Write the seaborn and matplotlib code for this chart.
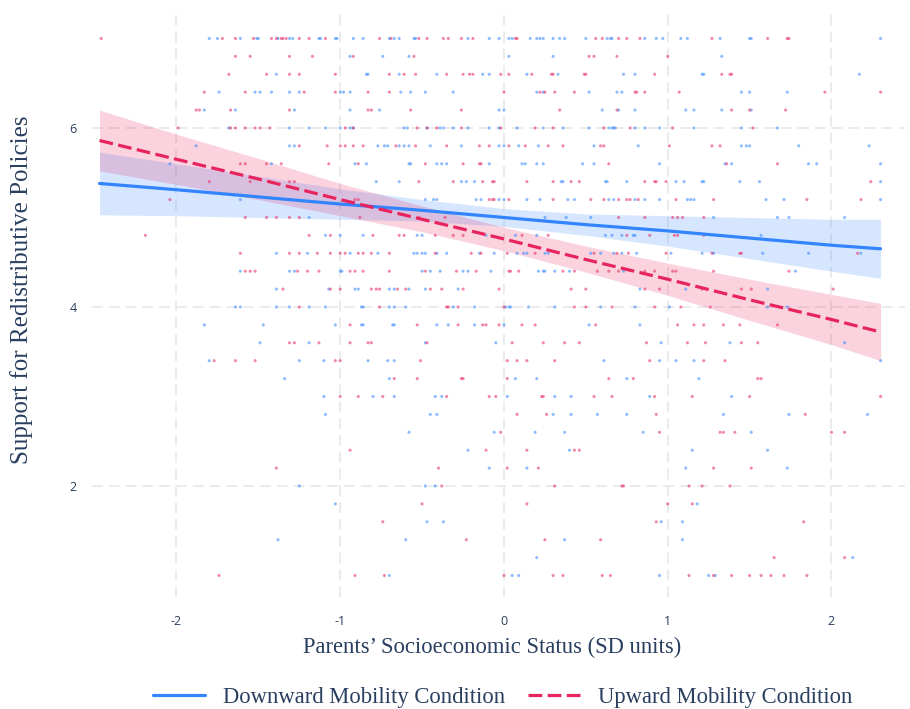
import numpy as np
import pandas as pd
import matplotlib
matplotlib.use("Agg")
import matplotlib.pyplot as plt
import seaborn as sns

# points, grouped by outcome level (x = parents' SES in SD units)
down_by_level = {
    7.0: [-1.80, -1.75, -1.61, -1.51, -1.50, -1.38, -1.31, -1.29, -1.13, -1.12, -1.03, -1.02, -0.92, -0.86,
          -0.70, -0.67, -0.64, -0.55, -0.54, -0.22, -0.09, -0.03, 0.03, 0.05, 0.16, 0.20, 0.22, 0.24, 0.30,
          0.34, 0.37, 0.50, 0.63, 0.65, 0.66, 0.86, 0.93, 0.97, 1.08, 1.12, 1.32, 1.50, 1.51, 2.30],
    6.8: [-0.94, -0.74, -0.58, 0.03, 0.30, 1.33],
    6.6: [-1.39, -0.84, -0.83, -0.64, -0.41, -0.13, -0.09, 0.14, 0.33, 0.73, 0.80, 1.21, 1.22, 2.17],
    6.4: [-1.74, -1.52, -1.49, -1.42, -1.31, -1.25, -1.00, -0.98, -0.94, -0.63, -0.57, -0.48, -0.31,
          0.20, 0.24, 0.52, 0.69, 0.72, 1.45, 1.50, 1.73],
    6.2: [-1.83, -1.64, -1.28, -0.94, -0.76, -0.03, 0.00, 0.60, 0.70, 0.80, 1.11, 1.16, 1.33, 1.51],
    6.0: [-1.68, -1.31, -1.19, -1.09, -1.00, -0.94, -0.92, -0.61, -0.59, -0.47, -0.39, -0.37, -0.31, -0.22,
          -0.09, -0.03, 0.08, 0.24, 0.36, 0.52, 0.64, 0.66, 0.67, 0.68, 0.80, 0.86, 0.95, 1.16, 1.45, 1.67],
    5.8: [-1.88, -1.31, -1.28, -0.77, -0.73, -0.71, -0.64, -0.61, -0.58, -0.45, -0.26, -0.03, 0.00, 0.09,
          0.21, 0.55, 0.82, 1.45, 1.48, 1.50, 1.80, 2.23],
    5.6: [-2.04, -1.42, -0.91, -0.84, -0.58, -0.57, -0.41, -0.38, -0.35, -0.09, 0.11, 0.13, 0.20, 0.24,
          0.48, 0.55, 0.95, 1.35, 1.39, 1.86, 1.91, 2.30],
    5.4: [-0.78, -0.64, -0.26, -0.23, -0.18, 0.35, 0.36, 0.62, 0.63, 0.75, 1.05, 1.10, 1.21, 1.22, 1.44,
          1.56, 2.30],
    5.2: [-1.61, -0.48, -0.43, -0.41, -0.17, -0.14, -0.03, 0.00, 0.14, 0.22, 0.39, 0.43, 0.64, 0.67, 0.80,
          0.86, 0.95, 1.12, 1.14, 1.16, 1.60, 1.71, 2.30],
    5.0: [-1.19, 0.25, 0.38, 0.53, 1.28, 1.67, 1.74, 2.08],
    4.8: [-1.09, -1.00, -0.86, -0.53, -0.50, -0.11, 0.07, 0.20, 0.62, 0.66, 0.72, 0.79, 0.80, 1.57],
    4.6: [-1.39, -1.20, -0.94, -0.77, -0.55, -0.53, -0.50, -0.48, -0.41, -0.35, -0.15, -0.06, 0.08, 0.12,
          0.14, 0.25, 0.27, 0.53, 0.59, 0.67, 0.72, 0.81, 1.02, 1.21, 1.28, 1.58, 1.86, 2.18],
    4.4: [-1.61, -1.31, -1.28, -1.00, -0.99, -0.50, -0.45, -0.39, -0.25, -0.22, -0.08, 0.21, 0.24, 0.25,
          0.31, 0.40, 0.73, 1.78],
    4.2: [-1.39, -1.07, -0.91, -0.89, -0.70, -0.67, -0.58, -0.48, -0.28, 0.83, 1.11, 1.61],
    4.0: [-1.64, -1.61, -1.39, -1.31, -1.19, -1.09, -0.87, -0.86, -0.70, -0.67, -0.60, -0.31, -0.18, 0.01,
          0.03, 0.04, 0.15, 0.31, 0.59, 0.80, 1.01, 1.61, 1.73],
    3.8: [-1.83, -1.47, -1.03, -0.87, -0.86, -0.68, -0.67, -0.41, -0.34, -0.18, 0.00, 0.52, 0.83],
    3.6: [-1.49, -1.19, -0.48, -0.05, 0.96, 1.38, 2.08],
    3.4: [-1.80, -1.25, -1.10, -0.83, -0.71, -0.67, 0.61, 0.95, 1.05, 1.16, 2.30],
    3.2: [-1.34, -0.70, 0.07, 0.20, 0.75, 1.19],
    3.0: [-1.10, -0.80, -0.67, -0.42, -0.38, 0.02, 0.31, 0.41, 0.89, 1.39],
    2.8: [-1.09, -0.45, -0.41, 0.30, 0.41, 0.57, 0.75, 1.34, 1.74, 2.22],
    2.6: [-0.58, -0.06, 0.19, 0.37, 0.85, 1.51],
    2.4: [-0.22, 0.40, 1.15, 1.61],
    2.2: [-0.09, 0.14, 1.11, 1.73],
    2.0: [-1.25, -0.48, -0.42],
    1.8: [-1.03, 1.18],
    1.6: [-0.47, -0.37, 0.96, 1.09],
    1.4: [-1.38, -0.60, 0.37, 1.09],
    1.2: [0.20, 2.13],
    1.0: [-0.70, 0.05, 0.09, 0.95, 1.25, 1.29],
}

up_by_level = {
    7.0: [-2.46, -1.72, -1.64, -1.53, -1.42, -1.39, -1.36, -1.35, -1.33, -1.25, -1.19, -1.09, -0.76, -0.69,
          -0.52, -0.47, -0.37, -0.34, -0.26, -0.19, 0.07, 0.08, 0.56, 0.60, 0.70, 0.75, 0.83, 1.27, 1.61,
          1.73, 1.74],
    6.8: [-1.64, -1.55, -1.31, -1.17, -0.92, -0.55, 0.52, 0.55, 0.69, 1.00],
    6.6: [-1.68, -1.45, -1.31, -1.25, -1.03, -0.70, -0.61, -0.54, -0.35, -0.25, -0.21, -0.19, -0.02, 0.03,
          0.17, 0.29, 0.30, 0.49, 0.50, 0.92, 1.33, 1.38, 1.39],
    6.4: [-1.83, -1.58, -1.22, -1.03, -0.83, -0.70, 0.00, 0.22, 0.25, 0.31, 0.43, 0.80, 0.81, 0.86, 1.07,
          1.96, 2.30],
    6.2: [-1.88, -1.86, -1.67, -1.31, -0.83, -0.81, -0.57, -0.26, 0.34, 0.69, 1.39, 1.50, 1.72],
    6.0: [-1.99, -1.67, -1.64, -1.58, -1.52, -1.49, -1.43, -0.97, -0.92, -0.53, -0.47, -0.41, -0.26, -0.02,
          0.19, 0.30, 0.61, 0.77, 1.03, 1.52],
    5.8: [-1.25, -1.08, -1.00, -0.97, -0.92, -0.86, -0.66, -0.54, -0.35, -0.15, -0.09, 0.03, 0.13, 0.27,
          0.36, 0.59, 0.61, 1.01, 1.27, 1.32],
    5.6: [-1.61, -1.58, -1.45, -1.36, -1.07, -0.89, -0.48, -0.25, -0.15, -0.14, 0.64, 1.36, 1.67],
    5.4: [-1.80, -1.55, -1.31, -1.28, -0.52, -0.31, -0.13, -0.07, -0.06, 0.14, 0.30, 0.41, 0.46, 0.86,
          0.92, 0.93, 0.99, 2.24],
    5.2: [-2.04, -0.91, -0.89, -0.09, -0.07, -0.06, 0.03, 0.30, 0.53, 0.61, 0.70, 0.75, 0.77, 0.82, 1.05,
          1.28, 1.85, 2.18],
    5.0: [-1.58, -1.45, -1.39, -1.31, -1.25, -0.88, -0.52, -0.36, 0.70, 0.86, 1.03, 1.06, 1.09, 1.22],
    4.8: [-2.19, -1.19, -1.06, -0.80, -0.64, -0.61, -0.42, -0.31, -0.25, 0.11, 0.27, 0.75, 0.89, 1.04,
          1.06, 1.22],
    4.6: [-1.61, -1.31, -1.25, -1.14, -1.06, -1.00, -0.97, -0.89, -0.86, -0.81, -0.70, -0.42, -0.20, -0.14,
          0.02, 0.19, 0.55, 0.69, 0.76, 0.99, 1.27, 1.44, 1.45, 2.16],
    4.4: [-1.58, -1.55, -1.52, -1.26, -1.20, -1.13, -0.94, -0.91, -0.86, -0.70, -0.48, -0.29, -0.17, 0.03,
          0.04, 0.09, 0.36, 0.43, 0.57, 0.64, 0.70, 0.86, 0.92, 1.03, 1.05, 1.28, 1.74],
    4.2: [-1.35, -1.06, -1.00, -0.81, -0.78, -0.76, -0.65, -0.60, -0.45, -0.38, -0.25, -0.03, 0.41, 0.50,
          0.86, 0.95, 1.21, 1.45, 1.51, 2.01],
    4.0: [-1.25, -0.76, -0.35, -0.34, -0.28, 0.00, 0.43, 0.50, 0.66, 0.92, 1.08, 1.26],
    3.8: [-0.94, -0.53, -0.28, -0.13, -0.11, -0.03, 0.11, 0.19, 0.56, 1.06, 1.16, 1.22, 1.34, 1.44, 1.67],
    3.6: [-1.31, -1.28, -1.13, -0.94, -0.83, -0.81, -0.47, 0.05, 0.24, 0.37, 0.46, 0.87, 1.12, 1.23, 1.45,
          1.55],
    3.4: [-1.77, -1.64, -1.52, -1.03, -1.00, -0.51, 0.02, 0.08, 0.14, 0.31, 0.89, 1.22, 1.35],
    3.2: [-0.67, -0.53, -0.26, -0.25, 0.02, 0.64, 0.79, 1.55, 1.57],
    3.0: [-1.00, -0.89, -0.74, -0.35, -0.09, -0.05, 0.23, 0.24, 0.55, 0.66, 0.92, 1.15, 1.50, 2.30],
    2.8: [0.08, 0.26, 0.93, 1.84],
    2.6: [-0.02, 0.95, 1.32, 1.34, 1.41, 2.00, 2.08],
    2.4: [-0.94, -0.11, 0.14, 0.43, 0.46],
    2.2: [-1.39, -0.40, 0.02, 0.21, 1.28, 1.51],
    2.0: [-0.38, 0.31, 0.72, 0.73, 1.13, 1.21, 1.38],
    1.8: [-0.50, 0.14, 1.00, 1.15],
    1.6: [-0.74, 0.93, 1.83],
    1.4: [-0.23, 0.25, 0.59],
    1.2: [1.65, 2.08],
    1.0: [-1.74, -0.91, -0.73, 0.00, 0.30, 0.36, 0.60, 0.65, 1.13, 1.28, 1.39, 1.50, 1.57, 1.63, 1.71, 1.85],
}

# fitted lines and 95% bands
fit_x = [-2.47, -2.0, -1.5, -1.0, -0.5, 0.0, 0.5, 1.0, 1.5, 2.0, 2.30]
down_fit = [5.38, 5.31, 5.23, 5.15, 5.08, 5.00, 4.92, 4.85, 4.77, 4.69, 4.65]
down_lo = [5.03, 5.02, 5.00, 4.98, 4.96, 4.90, 4.80, 4.68, 4.54, 4.40, 4.32]
down_hi = [5.73, 5.60, 5.46, 5.32, 5.20, 5.10, 5.04, 5.02, 5.00, 4.98, 4.98]
up_fit = [5.86, 5.65, 5.43, 5.20, 4.98, 4.76, 4.53, 4.31, 4.08, 3.86, 3.72]
up_lo = [5.52, 5.37, 5.20, 5.02, 4.84, 4.63, 4.39, 4.13, 3.85, 3.58, 3.40]
up_hi = [6.20, 5.93, 5.66, 5.38, 5.13, 4.89, 4.68, 4.49, 4.31, 4.14, 4.04]

conditions = ["Downward Mobility Condition", "Upward Mobility Condition"]
BLUE = "#3385ff"
PINK = "#e8245f"
TXT = "#2a3f5f"


def to_frame(by_level, name):
    rows = [(x, lvl) for lvl, xs in by_level.items() for x in xs]
    df = pd.DataFrame(rows, columns=["ses", "support"])
    df["condition"] = name
    return df


pts = pd.concat([to_frame(down_by_level, conditions[0]),
                 to_frame(up_by_level, conditions[1])], ignore_index=True)
fits = pd.concat([
    pd.DataFrame({"ses": fit_x, "support": down_fit, "condition": conditions[0]}),
    pd.DataFrame({"ses": fit_x, "support": up_fit, "condition": conditions[1]}),
], ignore_index=True)

sns.set_theme(style="white")
plt.rcParams["font.family"] = ["Liberation Serif", "DejaVu Serif"]
plt.rcParams["axes.unicode_minus"] = False

fig = plt.figure(figsize=(9.10, 7.09), dpi=100)
ax = fig.add_axes([92 / 910, 1 - 597 / 709, 813 / 910, 587 / 709])

ax.fill_between(fit_x, down_lo, down_hi, color=BLUE, alpha=0.2, linewidth=0, zorder=1)
ax.fill_between(fit_x, up_lo, up_hi, color=PINK, alpha=0.2, linewidth=0, zorder=1)

sns.scatterplot(data=pts, x="ses", y="support", hue="condition",
                palette={conditions[0]: BLUE, conditions[1]: PINK},
                s=5, alpha=0.55, linewidth=0, legend=False, ax=ax, zorder=2)

sns.lineplot(data=fits, x="ses", y="support", hue="condition", style="condition",
             palette={conditions[0]: BLUE, conditions[1]: PINK},
             dashes={conditions[0]: "", conditions[1]: (4.3, 1.7)},
             linewidth=2.3, errorbar=None, legend=False, ax=ax, zorder=3)

ax.set_xlim(-2.516, 2.449)
ax.set_ylim(0.76, 7.318)
ax.set_xticks([-2, -1, 0, 1, 2])
ax.set_yticks([2, 4, 6])
ax.grid(True, color="#e6e6e6", linestyle=(0, (7, 4)), linewidth=1.1)
ax.set_axisbelow(True)
for s in ax.spines.values():
    s.set_visible(False)

ax.tick_params(axis="both", length=0, labelsize=9, labelcolor=TXT)
ax.tick_params(axis="x", pad=13)
ax.tick_params(axis="y", pad=11)
for lab in ax.get_xticklabels() + ax.get_yticklabels():
    lab.set_fontfamily(["Open Sans", "DejaVu Sans"])

ax.set_xlabel("Parents\u2019 Socioeconomic Status (SD units)", fontsize=16.3, color=TXT)
ax.set_ylabel("Support for Redistributive Policies", fontsize=18, color=TXT)
ax.xaxis.set_label_coords(0.492, -0.068)
ax.yaxis.set_label_coords(-0.0726, 0.523)

handles = [plt.Line2D([], [], color=BLUE, lw=2.3),
           plt.Line2D([], [], color=PINK, lw=2.3, dashes=(4.3, 1.7))]
leg = fig.legend(handles, conditions, loc="center", bbox_to_anchor=(503 / 910, 1 - 697 / 709),
                 ncol=2, frameon=False, fontsize=16.3, handlelength=2.3, handletextpad=0.8,
                 columnspacing=1.0)
for t in leg.get_texts():
    t.set_color(TXT)

fig.savefig("out.png", dpi=100)
